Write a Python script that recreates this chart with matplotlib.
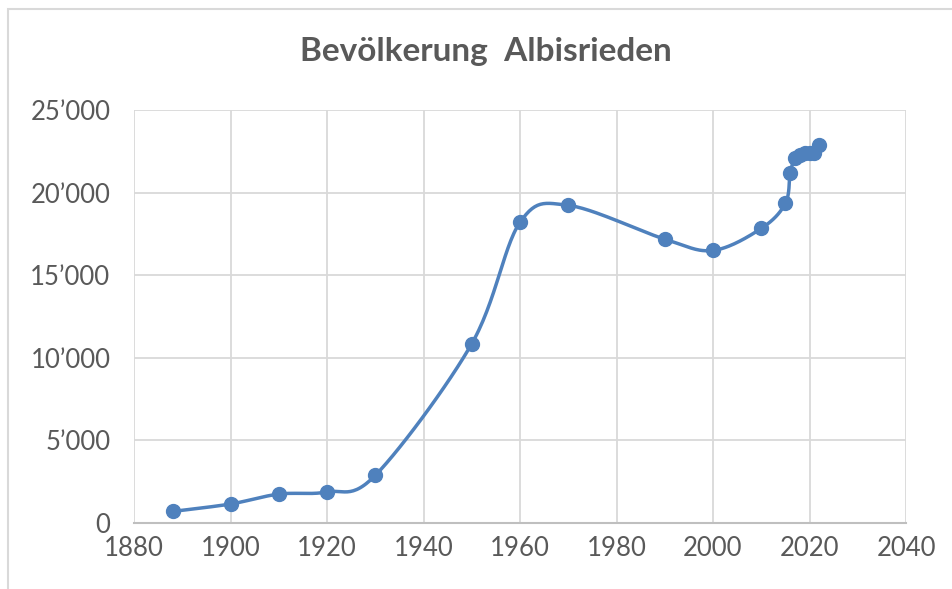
import numpy as np
import matplotlib
matplotlib.use("Agg")
import matplotlib.pyplot as plt
from matplotlib.patches import Rectangle
from matplotlib.ticker import FuncFormatter

years = [1888, 1900, 1910, 1920, 1930, 1950, 1960, 1970, 1990, 2000,
         2010, 2015, 2016, 2017, 2018, 2019, 2020, 2021, 2022]
population = [700, 1150, 1750, 1880, 2880, 10850, 18200, 19230, 17180, 16500,
              17830, 19350, 21180, 22120, 22300, 22380, 22400, 22420, 22900]

x_ticks = [1880, 1900, 1920, 1940, 1960, 1980, 2000, 2020, 2040]
y_ticks = [0, 5000, 10000, 15000, 20000, 25000]

blue = "#4f81bd"
gray_text = "#595959"
grid_col = "#d9d9d9"

W, H = 952, 589
fig = plt.figure(figsize=(W / 100, H / 100), dpi=100)
ax = fig.add_axes([134 / W, 1 - 523 / H, (906 - 134) / W, (523 - 110) / H])

# chart frame (extends past right/bottom edge of the image)
fig.patches.append(Rectangle((8 / W, -0.1), 1.2, 1 - 9 / H + 0.1,
                             transform=fig.transFigure, fill=False,
                             edgecolor=grid_col, lw=1.5))

ax.set_xlim(1880, 2040)
ax.set_ylim(0, 25000)


def smooth(xs, ys, n=30):
    # Excel-like smoothed line: Catmull-Rom Bezier in scaled space
    sx, sy = 160.0, 25000.0 * (772 / 413)
    p = np.column_stack([np.array(xs) / sx, np.array(ys) / sy])
    out = []
    for i in range(len(p) - 1):
        p0 = p[i - 1] if i > 0 else p[i]
        p1, p2 = p[i], p[i + 1]
        p3 = p[i + 2] if i + 2 < len(p) else p[i + 1]
        c1 = p1 + (p2 - p0) / 6
        c2 = p2 - (p3 - p1) / 6
        t = np.linspace(0, 1, n)[:, None]
        seg = ((1 - t) ** 3 * p1 + 3 * (1 - t) ** 2 * t * c1
               + 3 * (1 - t) * t ** 2 * c2 + t ** 3 * p2)
        out.append(seg if i == 0 else seg[1:])
    out = np.vstack(out)
    return out[:, 0] * sx, out[:, 1] * sy


cx, cy = smooth(years, population)
ax.plot(cx, cy, color=blue, lw=2.5, zorder=3, solid_capstyle="round")
ax.plot(years, population, "o", color=blue, ms=10, zorder=4)

ax.set_xticks(x_ticks)
ax.set_yticks(y_ticks)
ax.yaxis.set_major_formatter(FuncFormatter(lambda v, p: f"{int(v):,}".replace(",", "\u2019")))
ax.grid(True, color=grid_col, lw=1.3)
ax.set_axisbelow(True)
for s in ["top", "right", "left"]:
    ax.spines[s].set_visible(False)
ax.spines["bottom"].set_color("#bfbfbf")
ax.spines["bottom"].set_linewidth(1.5)
ax.tick_params(length=0, labelsize=18.5, labelcolor=gray_text, pad=9)
ax.tick_params(axis="y", pad=17)
for lab in ax.get_xticklabels() + ax.get_yticklabels():
    lab.set_fontfamily("Lato")

fig.text(486 / W, 1 - 52 / H, "Bevölkerung  Albisrieden", ha="center", va="center",
         fontsize=24, fontweight="bold", color=gray_text, family="Lato")

fig.savefig("out.png", dpi=100)
